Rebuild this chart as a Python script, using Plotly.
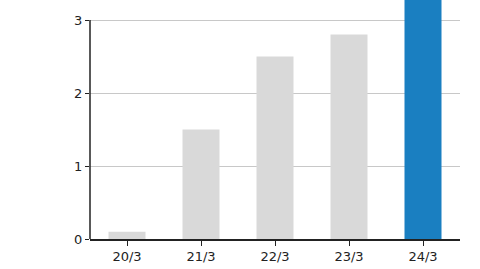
import plotly.graph_objects as go

categories = ["20/3", "21/3", "22/3", "23/3", "24/3"]
values = [0.1, 1.5, 2.5, 2.8, 3.6]
bar_colors = ["#d9d9d9", "#d9d9d9", "#d9d9d9", "#d9d9d9", "#1a7fc1"]
y_ticks = [0, 1, 2, 3]

fig = go.Figure(go.Bar(x=categories, y=values, marker=dict(color=bar_colors, line=dict(width=0))))

fig.update_layout(
    width=480, height=269,
    margin=dict(l=90, r=20, t=0, b=30),
    paper_bgcolor="white", plot_bgcolor="white",
    bargap=0.5,
    showlegend=False,
    font=dict(family="DejaVu Sans, Verdana, sans-serif", size=13, color="#222"),
)
fig.update_xaxes(
    showline=True, linecolor="#222", linewidth=1.5,
    ticks="outside", ticklen=5, tickcolor="#222",
    showgrid=False,
)
fig.update_yaxes(
    range=[0, 3.274], tickvals=y_ticks,
    showline=False, zeroline=False,
    ticks="outside", ticklen=4, tickcolor="#222",
    showgrid=True, gridcolor="#c8c8c8", gridwidth=1,
)
# y axis line only up to the top tick
fig.add_shape(type="line", xref="paper", yref="y", x0=0, x1=0, y0=0, y1=y_ticks[-1],
              line=dict(color="#222", width=1.5))

fig.write_html("out.html")
